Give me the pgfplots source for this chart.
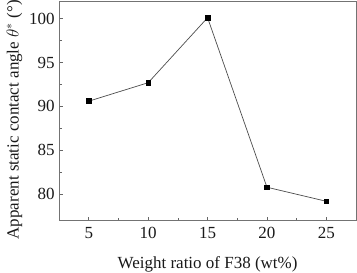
\documentclass[border=0pt]{standalone}
\usepackage{pgfplots}
\pgfplotsset{compat=1.18}
\usepackage{fontspec}
\setmainfont{Liberation Serif}
\begin{document}
\begin{tikzpicture}[x=1bp,y=1bp]
\begin{axis}[
  name=ax,
  scale only axis,
  width=296bp, height=219bp,
  xmin=2.5, xmax=27.5, ymin=77, ymax=102,
  xtick={5,10,15,20,25}, ytick={80,85,90,95,100},
  minor x tick num=1, minor y tick num=1,
  tick align=inside,
  xtick pos=bottom, ytick pos=left,
  major tick length=4bp, minor tick length=2.5bp,
  axis line style={draw=black!55, line width=0.9pt},
  every tick/.style={black!60, line width=0.7pt},
  /pgf/number format/assume math mode=true,
  tick label style={font=\fontsize{17}{20}\selectfont, black!90},
  label style={font=\fontsize{17}{20}\selectfont, black!90},
  xticklabel style={yshift=-3bp},
  yticklabel style={xshift=-1bp},
  xlabel={Weight ratio of F38 (wt\%)},
  ylabel={Apparent static contact angle $\theta^{*}$ (°)},
  xlabel style={yshift=-11bp},
  ylabel style={yshift=0bp, xshift=-9bp},
]
\addplot[black!70, line width=0.7pt, mark=square*, mark size=2.3bp, mark options={black, solid}]
coordinates {(5,90.6) (10,92.7) (15,100.1) (20,80.8) (25,79.2)};
\end{axis}
\pgfresetboundingbox
\path ([xshift=-59bp,yshift=1bp]ax.north west) rectangle ([xshift=1bp,yshift=-52bp]ax.south east);
\end{tikzpicture}
\end{document}
